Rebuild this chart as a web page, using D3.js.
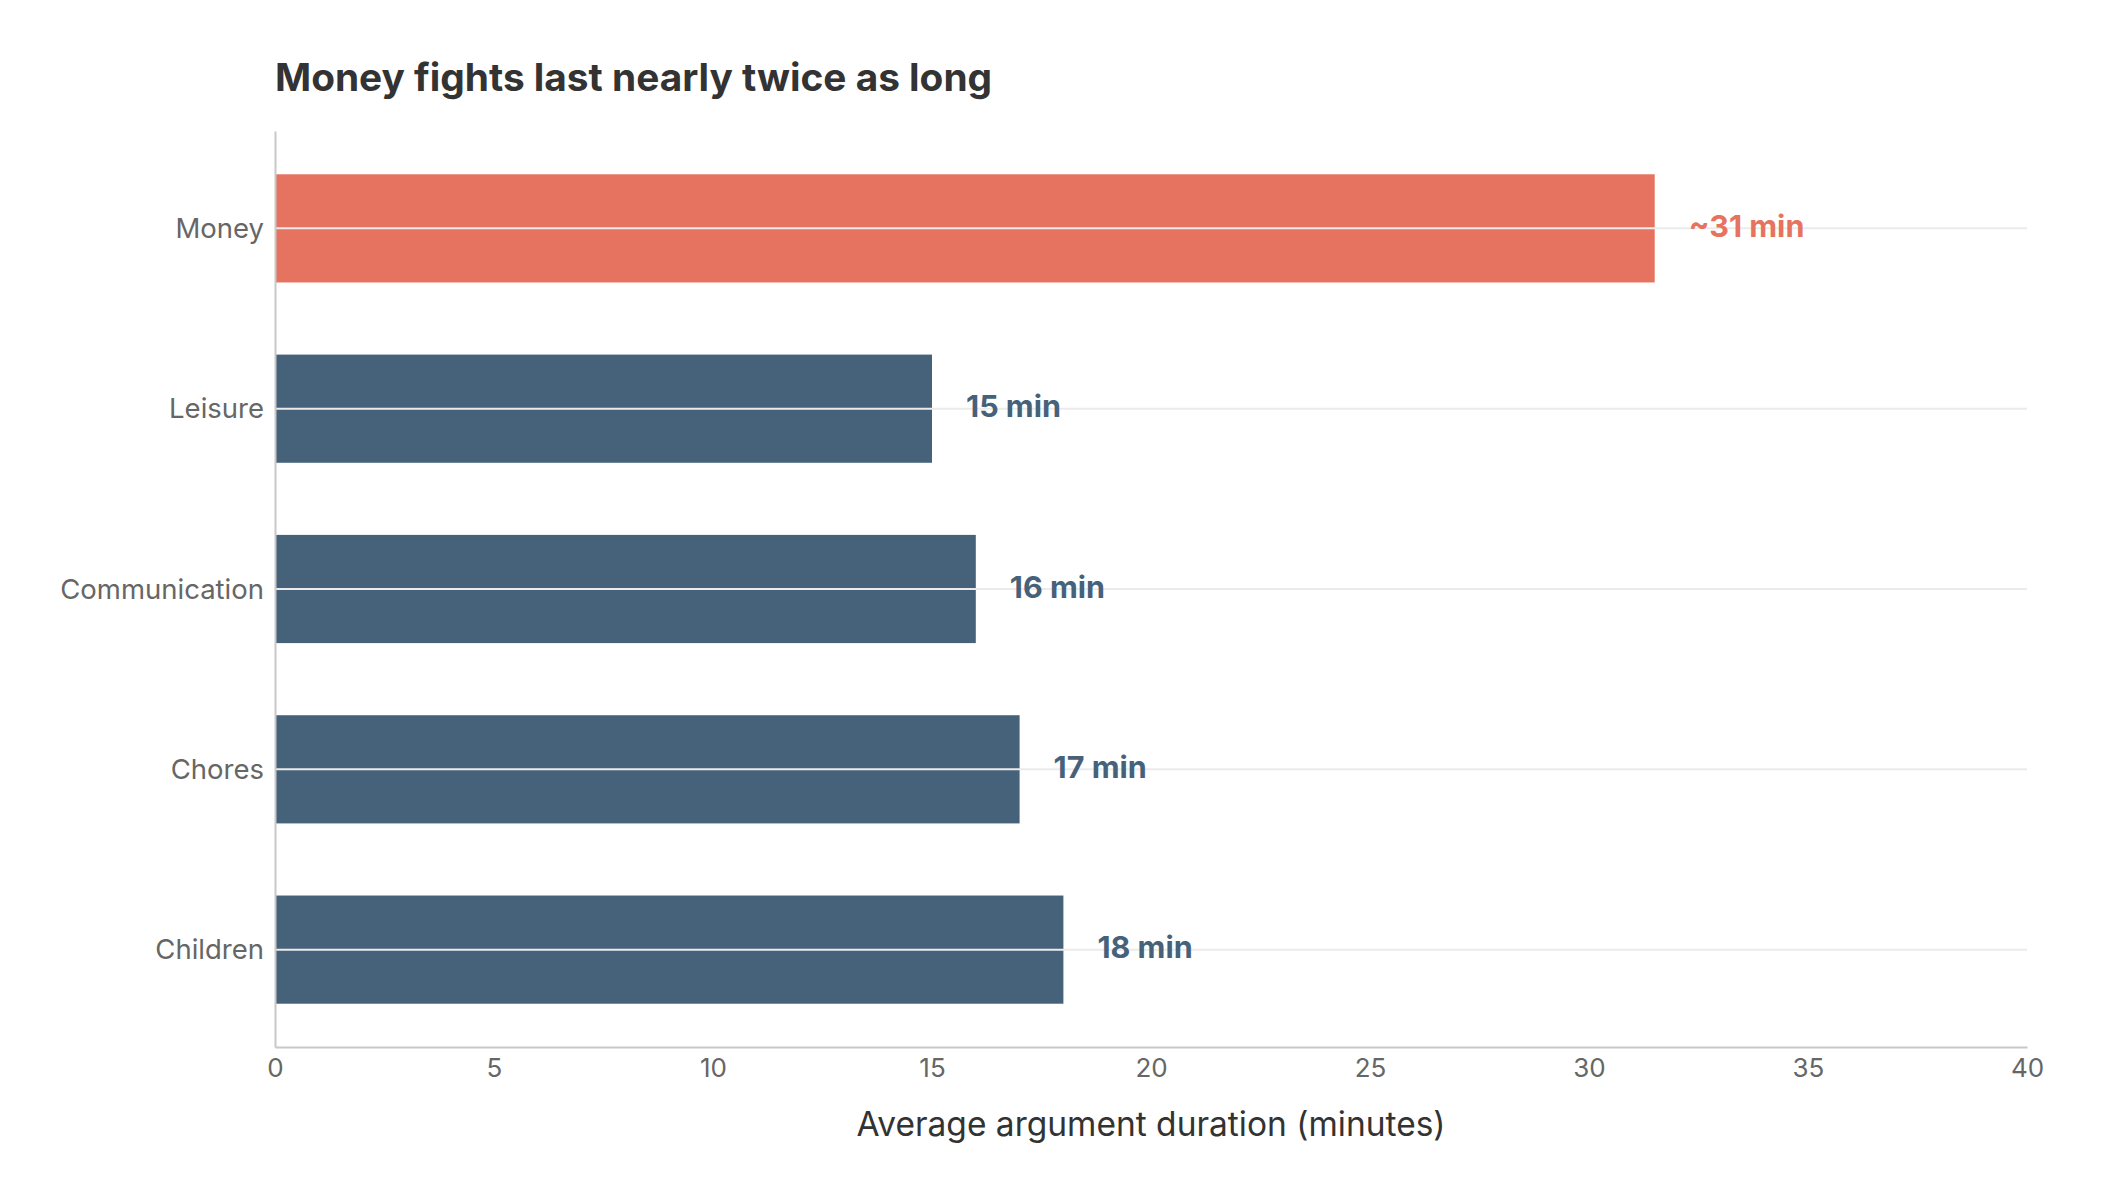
<!DOCTYPE html>
<html>
<head>
<meta charset="utf-8">
<script src="https://cdn.jsdelivr.net/npm/d3@7"></script>
<style>
  body { margin: 0; background: #fff; }
  svg text { font-family: Inter, "Noto Sans", sans-serif; }
</style>
</head>
<body>
<div id="chart-container"></div>
<script>
const chartWidth = 2103;
const chartHeight = 1203;

// Data
const categories = ["Money", "Leisure", "Communication", "Chores", "Children"];
const durations = [31.5, 15, 16, 17, 18];
const valueLabels = ["~31 min", "15 min", "16 min", "17 min", "18 min"];
const xTicks = [0, 5, 10, 15, 20, 25, 30, 35, 40];

const highlightColor = "#e5735f";
const baseColor = "#46627a";

const data = categories.map((name, i) => ({
    name,
    value: durations[i],
    label: valueLabels[i]
}));

const svg = d3.select("#chart-container")
    .append("svg")
    .attr("width", chartWidth)
    .attr("height", chartHeight);

const margin = { top: 131, right: 76, bottom: 156, left: 275 };
const width = chartWidth - margin.left - margin.right;
const height = chartHeight - margin.top - margin.bottom;

const g = svg.append("g")
    .attr("transform", "translate(" + margin.left + "," + margin.top + ")");

// Scales
const x = d3.scaleLinear()
    .domain([0, 40])
    .range([0, width]);

const y = d3.scaleBand()
    .domain(categories)
    .range([0, height])
    .paddingInner(0.4)
    .paddingOuter(0.24);

// Title
svg.append("text")
    .attr("x", margin.left)
    .attr("y", 91)
    .attr("fill", "#333")
    .style("font-size", "38.8px")
    .style("font-weight", "700")
    .text("Money fights last nearly twice as long");

// Bars
g.selectAll(".bar")
    .data(data)
    .enter()
    .append("rect")
    .attr("class", "bar")
    .attr("x", 0)
    .attr("y", (d) => y(d.name))
    .attr("width", (d) => x(d.value))
    .attr("height", y.bandwidth())
    .attr("fill", (d) => d.name === "Money" ? highlightColor : baseColor);

// Gridlines sit on top of the bars
g.selectAll(".grid")
    .data(categories)
    .enter()
    .append("line")
    .attr("class", "grid")
    .attr("x1", 0)
    .attr("x2", width)
    .attr("y1", (d) => y(d) + y.bandwidth() / 2)
    .attr("y2", (d) => y(d) + y.bandwidth() / 2)
    .attr("stroke", "#ebebeb")
    .attr("stroke-width", 2);

// Value labels
g.selectAll(".label")
    .data(data)
    .enter()
    .append("text")
    .attr("class", "label")
    .attr("x", (d) => x(d.value) + 34)
    .attr("y", (d) => y(d.name) + y.bandwidth() / 2)
    .attr("dy", "0.28em")
    .attr("fill", (d) => d.name === "Money" ? highlightColor : baseColor)
    .style("font-size", "30.5px")
    .style("font-weight", "700")
    .text((d) => d.label);

// X axis
const xAxis = g.append("g")
    .attr("transform", "translate(0," + height + ")")
    .call(d3.axisBottom(x).tickValues(xTicks).tickSize(0).tickPadding(12));
xAxis.select(".domain").attr("stroke", "#c8c8c8").attr("stroke-width", 2);
xAxis.selectAll("text")
    .attr("fill", "#666")
    .style("font-size", "26px");

// Y axis
const yAxis = g.append("g")
    .call(d3.axisLeft(y).tickSize(0).tickPadding(11));
yAxis.select(".domain").attr("stroke", "#c8c8c8").attr("stroke-width", 2);
yAxis.selectAll("text")
    .attr("fill", "#666")
    .attr("dy", "0.35em")
    .style("font-size", "27.5px");

// X axis title
g.append("text")
    .attr("x", width / 2)
    .attr("y", height + 89)
    .attr("text-anchor", "middle")
    .attr("fill", "#333")
    .style("font-size", "33.5px")
    .text("Average argument duration (minutes)");
</script>
</body>
</html>
